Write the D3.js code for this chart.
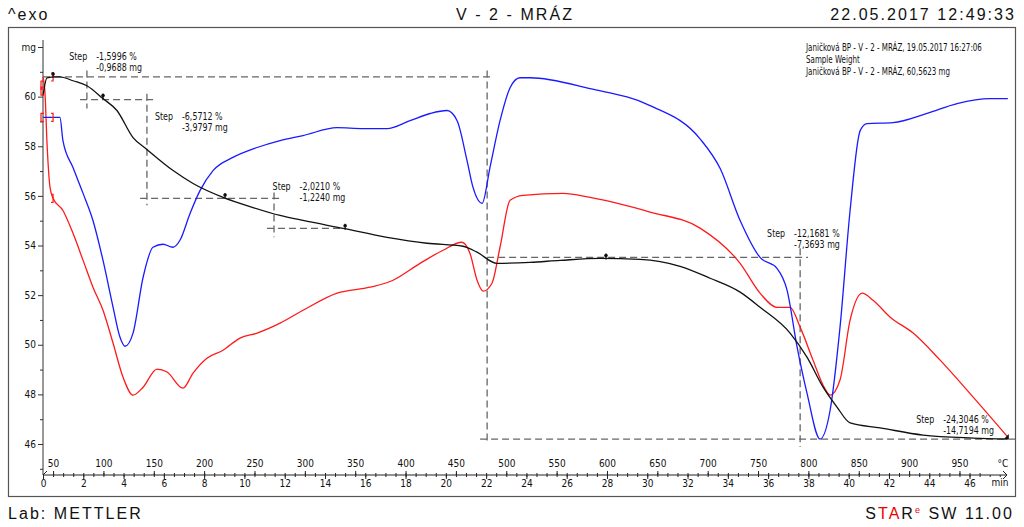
<!DOCTYPE html>
<html><head><meta charset="utf-8">
<script src="https://cdn.jsdelivr.net/npm/d3@7"></script>
<style>
html,body{margin:0;padding:0;background:#fff;}
svg{display:block;}
.big{font-family:"Liberation Sans",Arial,sans-serif;font-size:16px;letter-spacing:2.05px;fill:#111;}
.sm{font-family:"Liberation Sans Narrow","DejaVu Sans Condensed","Liberation Sans",sans-serif;font-size:10px;fill:#111;}
</style></head>
<body>
<svg id="c" width="1024" height="527"></svg>
<script>
// ---------- data ----------
// TG curve (black), time in min, mass in mg
const tgT = [0,0.2,0.6,0.84,1.49,2.18,2.98,3.67,4.47,5.16,6.46,7.45,8.94,10.43,11.77,12.91,14.9,17.08,19.07,20.85,21.55,22.54,24.18,25.67,27.66,29.64,31.63,33.12,34.61,35.6,37.09,37.93,38.73,39.42,40.07,41.56,43.69,46.18,47.9];
const tgM = [60.04,60.76,60.8,60.8,60.64,60.44,59.92,59.44,58.35,57.87,57.02,56.5,55.94,55.53,55.21,55.01,54.69,54.33,54.09,53.97,53.73,53.28,53.32,53.4,53.48,53.44,53.16,52.68,52.12,51.51,50.47,49.5,48.29,47.49,46.85,46.65,46.36,46.24,46.2];
// DSC curve (blue), plotted in mg-equivalent units
const blueT = [0,0.84,0.99,1.49,1.99,2.48,2.98,3.48,3.82,4.07,4.47,4.97,5.46,5.96,6.45,6.8,7.3,7.8,8.44,9.43,10.63,11.77,12.91,14.6,15.89,17.08,18.22,19.22,20.06,20.56,21.05,21.35,21.8,22.19,22.69,23.19,23.68,24.18,27.16,30.14,32.62,33.62,34.61,35.6,36.44,36.94,37.44,37.93,38.58,39.08,39.57,40.07,40.57,40.91,42.2,43.89,45.38,47.02,47.9];
const blueV = [59.16,59.16,58.23,57.14,56.1,55.01,53.4,51.51,50.31,49.94,50.47,52.72,53.93,54.05,53.93,54.21,55.29,56.22,57.02,57.55,57.95,58.23,58.43,58.75,58.71,58.71,59.03,59.32,59.44,59.03,57.43,56.34,55.7,57.14,59.03,60.36,60.76,60.76,60.32,59.64,58.3,57.1,55.01,53.52,53.08,52.2,49.9,48.05,46.2,47.37,50.71,55.41,58.63,58.91,58.95,59.32,59.72,59.92,59.92];
// DTA curve (red), plotted in mg-equivalent units
const redT = [0,0.1,0.2,0.35,0.5,0.99,1.49,1.99,2.48,2.98,3.48,3.97,4.47,4.97,5.66,6.16,6.95,7.45,8.14,8.94,9.78,10.63,11.77,12.91,14.6,16.24,17.38,18.72,19.86,20.8,21.2,21.55,21.85,22.29,22.69,23.19,23.83,25.82,27.16,30.14,32.62,34.61,35.6,36.44,37.09,37.59,38.23,38.73,39.08,39.57,40.07,40.67,41.21,42.06,43.2,44.54,46.18,47.9];
const redV = [60.8,60.12,58.11,56.34,55.9,55.41,54.49,53.4,52.32,51.39,50.06,48.7,47.97,48.29,49.02,48.9,48.25,48.86,49.46,49.78,50.27,50.47,50.87,51.39,52.08,52.32,52.6,53.28,53.81,54.13,53.68,52.6,52.16,52.48,53.93,55.82,56.02,56.1,55.94,55.35,54.7,53.28,52.08,51.51,51.51,50.71,49.38,48.37,47.97,48.58,50.99,52.08,51.79,51.11,50.47,49.38,47.89,46.28];
// step evaluation: label position (time, mg), texts, marker time
const stepLabelT = [1.3,5.56,11.4,35.95,43.35];
const stepLabelM = [61.48,59.06,56.22,54.34,46.86];
const stepPct = ["-1,5996 %","-6,5712 %","-2,0210 %","-12,1681 %","-24,3046 %"];
const stepMg  = ["-0,9688 mg","-3,9797 mg","-1,2240 mg","-7,3693 mg","-14,7194 mg"];
const stepMarkT = [0.5,2.98,9.04,15.0,27.95,47.9];
// dashed evaluation lines: horizontal [t1,t2,mg], vertical [t,mg1,mg2]
const hLines = [[0,22.34,60.8],[1.84,5.56,59.88],[4.82,11.87,55.9],[11.12,14.9,54.69],[22.05,37.98,53.52],[21.7,48.4,46.2]];
const vLines = [[2.18,61.05,59.52],[5.16,60.12,55.62],[11.47,56.14,54.33],[22.05,61.05,46.04],[37.59,53.89,45.88]];
// axis ticks
const massTicks = [46,48,50,52,54,56,58,60,62];
const massMinor = [45,47,49,51,53,55,57,59,61];
const timeTicks = d3.range(0,47,2);
const timeMinor = d3.range(0,48,0.5);
const tempTicks = d3.range(50,951,50);
const tempMinor = d3.range(50,976,10);
const infoLines = ["Janičková BP - V - 2 - MRÁZ, 19.05.2017 16:27:06","Sample Weight","Janičková BP - V - 2 - MRÁZ, 60,5623 mg"];

// ---------- layout ----------
const svg = d3.select("#c");
const axisY = 475;
const x = d3.scaleLinear().domain([0,47.86]).range([43,1007]);
const y = d3.scaleLinear().domain([46,62]).range([444,47]);
const xT = d3.scaleLinear().domain([40,40+20*47.86]).range([43,1007]);

function smallText(px, py, s, sx){
  return svg.append("text").attr("class","sm")
    .attr("transform",`translate(${px},${py}) scale(${sx},1)`).text(s);
}

// frame
svg.append("rect").attr("x",8.5).attr("y",27.5).attr("width",1007).attr("height",469)
  .attr("fill","none").attr("stroke","#555").attr("stroke-width",1.2);

// header/footer
svg.append("text").attr("class","big").attr("x",8).attr("y",20).text("^exo");
svg.append("text").attr("class","big").attr("x",515).attr("y",20).attr("text-anchor","middle").text("V - 2 - MRÁZ");
svg.append("text").attr("class","big").attr("x",1016).attr("y",20).attr("text-anchor","end").text("22.05.2017 12:49:33");
svg.append("text").attr("class","big").attr("x",8).attr("y",519).text("Lab: METTLER");
const star = svg.append("text").attr("class","big").attr("x",1014).attr("y",519).attr("text-anchor","end");
star.append("tspan").text("S");
star.append("tspan").attr("fill","#e00").text("TA");
star.append("tspan").text("R");
star.append("tspan").attr("fill","#e00").attr("font-size","9px").attr("dy","-6").text("e");
star.append("tspan").attr("dy","6").text(" SW 11.00");

// info text (fit the first line to the reference width)
const info = infoLines.map((s,i)=>smallText(806,51+i*12,s,1));
const infoScale = 176 / info[0].node().getComputedTextLength();
info.forEach((t,i)=>t.attr("transform",`translate(806,${51+i*12}) scale(${infoScale},1)`));

// y axis
svg.append("line").attr("x1",43).attr("x2",43).attr("y1",40).attr("y2",axisY).attr("stroke","#333");
const yAx = svg.append("g").attr("transform","translate(43,0)")
  .call(d3.axisLeft(y).tickValues(massTicks).tickSize(5).tickPadding(2).tickFormat(d=>d===62?"mg":d));
yAx.select(".domain").remove();
yAx.selectAll("text").attr("class","sm").attr("font-size",null).attr("font-family",null);
yAx.selectAll("line").attr("stroke","#333");
const yMin = svg.append("g").attr("transform","translate(43,0)")
  .call(d3.axisLeft(y).tickValues(massMinor).tickSize(3).tickFormat(""));
yMin.select(".domain").remove();
yMin.selectAll("line").attr("stroke","#333");

// x axis (time below, temperature above)
svg.append("line").attr("x1",43).attr("x2",1007).attr("y1",axisY).attr("y2",axisY).attr("stroke","#222");
const xAx = svg.append("g").attr("transform",`translate(0,${axisY})`)
  .call(d3.axisBottom(x).tickValues(timeTicks).tickSize(4).tickPadding(1).tickFormat(d3.format("d")));
xAx.select(".domain").remove();
xAx.selectAll("text").attr("class","sm").attr("font-size",null).attr("font-family",null);
xAx.selectAll("line").attr("stroke","#222");
const xMin = svg.append("g").attr("transform",`translate(0,${axisY})`)
  .call(d3.axisBottom(x).tickValues(timeMinor).tickSize(2).tickFormat(""));
xMin.select(".domain").remove();
xMin.selectAll("line").attr("stroke","#222");
const tAx = svg.append("g").attr("transform",`translate(0,${axisY})`)
  .call(d3.axisTop(xT).tickValues(tempTicks).tickSize(4).tickPadding(4).tickFormat(d3.format("d")));
tAx.select(".domain").remove();
tAx.selectAll("text").attr("class","sm").attr("font-size",null).attr("font-family",null);
tAx.selectAll("line").attr("stroke","#222");
const tMin = svg.append("g").attr("transform",`translate(0,${axisY})`)
  .call(d3.axisTop(xT).tickValues(tempMinor).tickSize(2).tickFormat(""));
tMin.select(".domain").remove();
tMin.selectAll("line").attr("stroke","#222");
svg.append("text").attr("class","sm").attr("x",1003).attr("y",467).attr("text-anchor","middle").text("°C");
svg.append("text").attr("class","sm").attr("x",1000).attr("y",486).attr("text-anchor","middle").text("min");
svg.append("path").attr("d",`M1003,${axisY-4}L1007,${axisY}L1003,${axisY+4}`).attr("fill","none").attr("stroke","#222");
svg.append("path").attr("d",`M43,${axisY}L47,${axisY-4}`).attr("fill","none").attr("stroke","#222");

// dashed evaluation lines
const dash = svg.append("g").attr("stroke","#666").attr("stroke-width",1.3).attr("stroke-dasharray","7,4").attr("fill","none");
dash.selectAll(".h").data(hLines).join("line")
  .attr("x1",d=>x(d[0])).attr("x2",d=>Math.min(x(d[1]),1015)).attr("y1",d=>y(d[2])).attr("y2",d=>y(d[2]));
dash.selectAll(".v").data(vLines).join("line")
  .attr("x1",d=>x(d[0])).attr("x2",d=>x(d[0])).attr("y1",d=>y(d[1])).attr("y2",d=>y(d[2]));

// curves
const line = d3.line().x(d=>x(d[0])).y(d=>y(d[1])).curve(d3.curveMonotoneX);
const zip = (a,b)=>a.map((v,i)=>[v,b[i]]);
svg.append("path").attr("d",line(zip(redT,redV))).attr("fill","none").attr("stroke","#ff1a1a").attr("stroke-width",1.3);
svg.append("path").attr("d",line(zip(blueT,blueV))).attr("fill","none").attr("stroke","#1a1aff").attr("stroke-width",1.3);
svg.append("path").attr("d",line(zip(tgT,tgM))).attr("fill","none").attr("stroke","#111").attr("stroke-width",1.3);

// integration limit brackets (red)
const interp = (ts,vs,t)=>{ for(let i=1;i<ts.length;i++){ if(ts[i]>=t){const f=(t-ts[i-1])/(ts[i]-ts[i-1]);return vs[i-1]+f*(vs[i]-vs[i-1]);} } return vs[vs.length-1]; };
const br = svg.append("g").attr("stroke","#ff1a1a").attr("fill","none").attr("stroke-width",1.2);
[[tgT,tgM,0.05],[blueT,blueV,0],[redT,redV,0.05]].forEach(([ts,vs,t0])=>{
  const xa = x(0)-1, ya = y(interp(ts,vs,t0));
  br.append("path").attr("d",`M${xa+2},${ya-4}H${xa-1}V${ya+4}H${xa+2}`);
  const xb = x(0.5), yb = y(interp(ts,vs,0.5));
  br.append("path").attr("d",`M${xb-2},${yb-4}H${xb}V${yb+4}H${xb-2}`);
});

// step markers on TG
stepMarkT.forEach((t,i)=>{
  const px = x(t), py = y(interp(tgT,tgM,t));
  if(i===stepMarkT.length-1){
    svg.append("path").attr("d",`M${px-4},${py}L${px+1},${py-5}L${px+1},${py}Z`).attr("fill","#111");
  } else {
    svg.append("line").attr("x1",px).attr("x2",px).attr("y1",py-5).attr("y2",py+1).attr("stroke","#111").attr("stroke-width",1.2);
    svg.append("circle").attr("cx",px).attr("cy",py-3).attr("r",1.8).attr("fill","#111");
  }
});

// step labels
stepPct.forEach((p,i)=>{
  const lx = x(stepLabelT[i]), ly = y(stepLabelM[i]);
  smallText(lx, ly, "Step", 0.88);
  smallText(lx+27, ly, p, 0.88);
  smallText(lx+27, ly+11, stepMg[i], 0.88);
});
</script>
</body></html>
